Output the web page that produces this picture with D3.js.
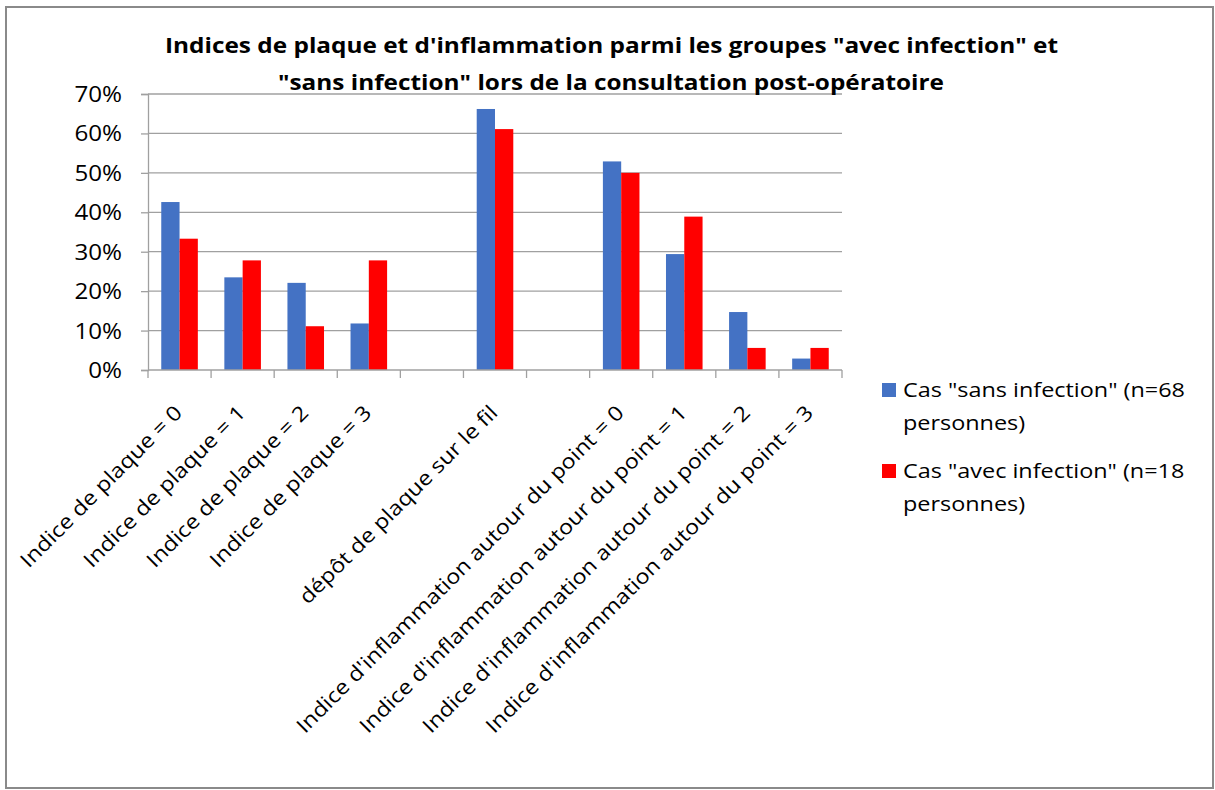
<!DOCTYPE html>
<html><head><meta charset="utf-8">
<script src="https://cdn.jsdelivr.net/npm/d3@7"></script>
<style>body{margin:0;background:#fff}svg{display:block}</style>
</head><body>
<svg id="c" width="1215" height="790"></svg>
<script>
const categories = ["Indice de plaque = 0","Indice de plaque = 1","Indice de plaque = 2","Indice de plaque = 3","","dépôt de plaque sur le fil","","Indice d'inflammation autour du point = 0","Indice d'inflammation autour du point = 1","Indice d'inflammation autour du point = 2","Indice d'inflammation autour du point = 3"];
const sansInfection = [0.426,0.235,0.221,0.118,null,0.662,null,0.529,0.294,0.147,0.029];
const avecInfection = [0.333,0.278,0.111,0.278,null,0.611,null,0.500,0.389,0.056,0.056];
const seriesNames = ['Cas "sans infection" (n=68 personnes)','Cas "avec infection" (n=18 personnes)'];
const seriesColors = ["#4472C4","#FF0000"];
const yTicks = [0,0.1,0.2,0.3,0.4,0.5,0.6,0.7];
const titleLines = ["Indices de plaque et d'inflammation parmi les groupes \"avec infection\" et","\"sans infection\" lors de la consultation post-opératoire"];

const svg = d3.select("#c");
const font = "'Open Sans', sans-serif";
const gridColor = "#a0a0a0";

function stretch(sel, k, anchorEnd){
  sel.each(function(){
    const n = this.getComputedTextLength();
    if(!n) return;
    this.setAttribute("textLength", n*k);
    this.setAttribute("lengthAdjust","spacingAndGlyphs");
  });
}

svg.append("rect").attr("x",6).attr("y",7).attr("width",1207).attr("height",781)
  .attr("fill","#fff").attr("stroke","#8a8a8a").attr("stroke-width",2);

const x = d3.scaleBand().domain(d3.range(categories.length)).range([148,842]).padding(0);
const xi = d3.scaleBand().domain([0,1]).range([0,x.bandwidth()]).paddingInner(0).paddingOuter(0.725);
const y = d3.scaleLinear().domain([0,0.7]).range([370,94]);

// gridlines
svg.append("g").selectAll("line").data(yTicks.slice(1)).join("line")
  .attr("x1",148).attr("x2",842).attr("y1",d=>y(d)).attr("y2",d=>y(d))
  .attr("stroke",gridColor).attr("stroke-width",1.3);

// bars
const data = categories.map((c,i)=>({i, vals:[sansInfection[i],avecInfection[i]]}));
const g = svg.append("g");
data.forEach(d=>{
  d.vals.forEach((v,s)=>{
    if(v==null) return;
    g.append("rect").attr("x",x(d.i)+xi(s)).attr("width",xi.bandwidth())
      .attr("y",y(v)).attr("height",y(0)-y(v)).attr("fill",seriesColors[s]);
  });
});

// y axis
const ya = svg.append("g").attr("transform","translate(148,0)")
  .call(d3.axisLeft(y).tickValues(yTicks).tickFormat(d3.format(".0%")).tickSize(7).tickPadding(18));
ya.select(".domain").attr("stroke",gridColor).attr("stroke-width",1.3);
ya.selectAll(".tick line").attr("stroke",gridColor).attr("stroke-width",1.3);
ya.selectAll(".tick text").attr("font-family",font).attr("font-size",21).attr("fill","#000")
  .attr("text-anchor","start").attr("dy","0.36em");
ya.selectAll(".tick text").each(function(){
  const n = this.getComputedTextLength();
  const L = n*1.15;
  this.setAttribute("textLength", L);
  this.setAttribute("lengthAdjust","spacingAndGlyphs");
  this.setAttribute("x", -26 - L);
});

// x axis
const xEdges = d3.range(categories.length+1).map(i=> i<categories.length ? x(i) : x(categories.length-1)+x.bandwidth());
svg.append("line").attr("x1",148).attr("x2",842).attr("y1",370).attr("y2",370).attr("stroke",gridColor).attr("stroke-width",1.3);
svg.append("g").selectAll("line").data(xEdges).join("line")
  .attr("x1",d=>d).attr("x2",d=>d).attr("y1",370).attr("y2",378).attr("stroke",gridColor).attr("stroke-width",1.3);
const xl = svg.append("g").selectAll("text").data(categories).join("text")
  .attr("font-family",font).attr("font-size",20.5).attr("fill","#000").text(d=>d);
xl.each(function(d,i){
  const n = this.getComputedTextLength();
  if(!n) return;
  const L = n*1.14;
  this.setAttribute("textLength", L);
  this.setAttribute("lengthAdjust","spacingAndGlyphs");
  this.setAttribute("x", -L);
  this.setAttribute("transform",`translate(${x(i)+x.bandwidth()/2+4},414) rotate(-45)`);
});

// title
const titleX = [165,278], titleW = [893,666];
svg.append("g").selectAll("text").data(titleLines).join("text")
  .attr("x",(d,i)=>titleX[i]).attr("y",(d,i)=>53+i*37)
  .attr("textLength",(d,i)=>titleW[i]).attr("lengthAdjust","spacingAndGlyphs")
  .attr("font-family",font).attr("font-weight","bold").attr("font-size",21).attr("fill","#000").text(d=>d);

// legend
const legY = [383,464];
const legendLines = [['Cas "sans infection" (n=68','personnes)'],['Cas "avec infection" (n=18','personnes)']];
seriesNames.forEach((n,s)=>{
  svg.append("rect").attr("x",882).attr("y",legY[s]).attr("width",14).attr("height",14).attr("fill",seriesColors[s]);
  legendLines[s].forEach((t,k)=>{
    const tx = svg.append("text").attr("x",903).attr("y",legY[s]+14+k*33).attr("font-family",font).attr("font-size",20).attr("fill","#000").text(t);
    stretch(tx,1.17);
  });
});
</script>
</body></html>
